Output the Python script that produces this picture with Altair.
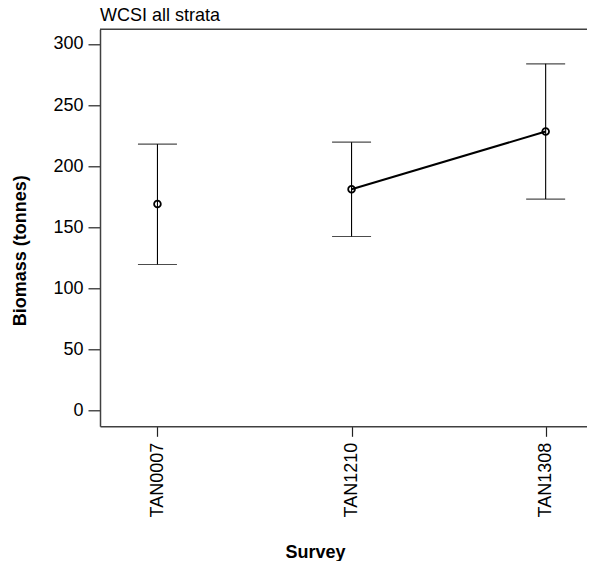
import altair as alt
import pandas as pd

# ---- data ----
surveys = ["TAN0007", "TAN1210", "TAN1308"]
survey_pos = [1, 2, 3]
biomass = [169.0, 181.0, 228.3]
lower = [119.5, 142.4, 173.0]
upper = [218.0, 219.6, 283.7]
connected = [False, True, True]
y_ticks = [0, 50, 100, 150, 200, 250, 300]
title_text = "WCSI all strata"

df = pd.DataFrame({
    "survey": surveys,
    "pos": survey_pos,
    "biomass": biomass,
    "lower": lower,
    "upper": upper,
    "connected": connected,
})

W, H = 487, 397
FONT = "Liberation Sans"
FRAME = "#404040"

xscale = alt.Scale(domain=[0.704, 3.213], nice=False, zero=False)
yscale = alt.Scale(domain=[-13, 312], nice=False, zero=False)

label_expr = "[" + ",".join(f"'{s}'" for s in surveys) + "][datum.value - 1]"

x_axis = alt.Axis(
    values=survey_pos, labelExpr=label_expr, title="Survey",
    labelAngle=270, labelAlign="right", labelBaseline="middle",
    tickSize=10, labelPadding=6, labelFlush=False, labelOverlap=False,
    titleX=215, titleY=131, titleAlign="center", titleBaseline="alphabetic",
    grid=False,
)
y_axis = alt.Axis(
    values=y_ticks, title="Biomass (tonnes)", tickSize=12, labelPadding=5,
    labelAngle=0, labelAlign="right", labelBaseline="middle",
    labelFlush=False, labelOverlap=False,
    titleX=-80, titleY=221, titleAngle=270, titleAlign="center",
    titleBaseline="middle", grid=False,
)

X = alt.X("pos:Q", scale=xscale, axis=x_axis)

base = alt.Chart(df)

err = base.mark_rule(color="black", strokeWidth=1.1).encode(
    x=X,
    y=alt.Y("lower:Q", scale=yscale, axis=y_axis),
    y2="upper:Q",
)
cap_lo = base.mark_tick(orient="horizontal", size=39, thickness=1.1, color="black").encode(
    x=X, y=alt.Y("lower:Q", scale=yscale, axis=y_axis)
)
cap_hi = base.mark_tick(orient="horizontal", size=39, thickness=1.1, color="black").encode(
    x=X, y=alt.Y("upper:Q", scale=yscale, axis=y_axis)
)
line = base.transform_filter("datum.connected").mark_line(
    color="black", strokeWidth=2
).encode(x=X, y=alt.Y("biomass:Q", scale=yscale, axis=y_axis))
pts = base.mark_point(
    shape="circle", filled=False, size=45, strokeWidth=1.8, color="black", opacity=1
).encode(x=X, y=alt.Y("biomass:Q", scale=yscale, axis=y_axis))

frame_df = pd.DataFrame({"t": [title_text]})
top = alt.Chart(frame_df).mark_rule(
    color=FRAME, strokeWidth=1.5
).encode(x=alt.value(0), x2=alt.value(W), y=alt.value(0))
title = alt.Chart(frame_df).mark_text(
    align="left", baseline="alphabetic", font=FONT, fontSize=18, color="black"
).encode(x=alt.value(0), y=alt.value(-8.3), text="t:N")

chart = alt.layer(err, cap_lo, cap_hi, line, pts, top, title).properties(
    width=W, height=H,
    autosize=alt.AutoSizeParams(type="none"),
    padding={"left": 92, "top": 21.3, "right": 0, "bottom": 135},
).configure_view(stroke=None).configure_axis(
    labelFont=FONT, titleFont=FONT, labelFontSize=18, titleFontSize=18,
    labelColor="black", titleColor="black", titleFontWeight="bold",
    domainColor=FRAME, domainWidth=1.5, tickColor="#222222", tickWidth=1.2,
)

chart.save("out.html", embed_options={"renderer": "svg", "actions": False})
